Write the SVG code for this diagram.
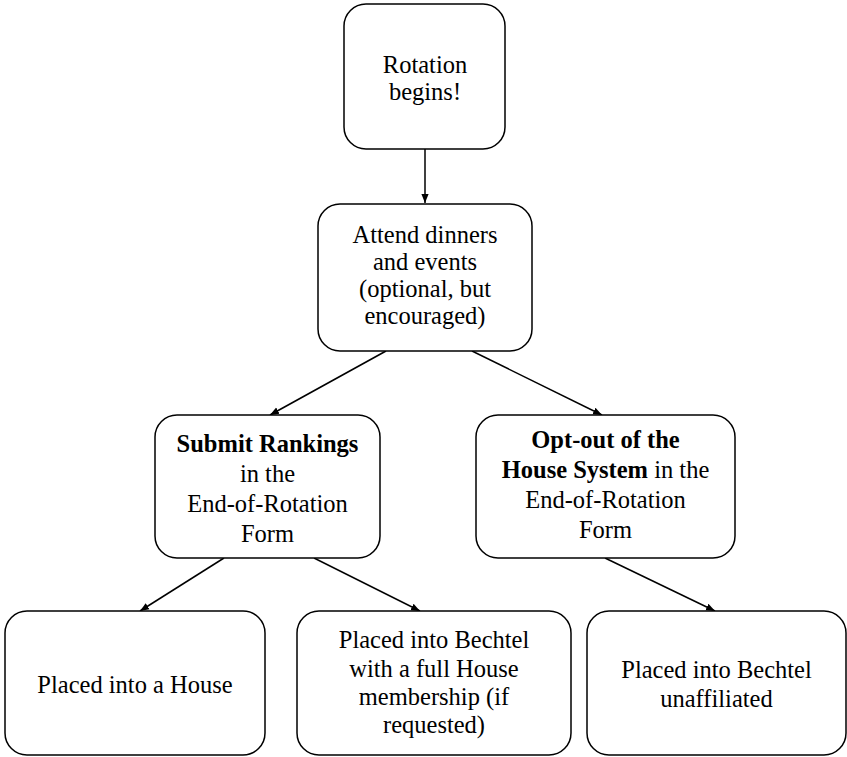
<svg xmlns="http://www.w3.org/2000/svg" width="847" height="757" viewBox="0 0 847 757">
<style>
.box{fill:#fff;stroke:#000;stroke-width:1.5}
.t{font-family:"Liberation Serif","Times New Roman",serif;font-size:24.5px;fill:#000;text-anchor:middle}
.b{font-weight:bold}
.c{stroke:#000;stroke-width:1.5;fill:none;marker-end:url(#ah)}
</style>
<defs>
<marker id="ah" viewBox="0 0 10 10" refX="10" refY="5" markerWidth="6" markerHeight="6" markerUnits="strokeWidth" orient="auto">
<path d="M0,1 L10,5 L0,9 z" fill="#000"/>
</marker>
</defs>
<rect width="847" height="757" fill="#fff"/>
<g id="connectors">
<line class="c" x1="425" y1="149" x2="425" y2="203"/>
<line class="c" x1="386" y1="351" x2="270" y2="415"/>
<line class="c" x1="472" y1="351" x2="602" y2="415"/>
<line class="c" x1="224" y1="558" x2="140" y2="611"/>
<line class="c" x1="314" y1="558" x2="420" y2="611"/>
<line class="c" x1="605" y1="558" x2="715" y2="611"/>
</g>
<g id="n1">
<rect class="box" x="344" y="4" width="161" height="145" rx="22"/>
<text class="t" x="425" y="73">Rotation</text>
<text class="t" x="425" y="100">begins!</text>
</g>
<g id="n2">
<rect class="box" x="318" y="204" width="214" height="147" rx="22"/>
<text class="t" x="425" y="243">Attend dinners</text>
<text class="t" x="425" y="270">and events</text>
<text class="t" x="425" y="297">(optional, but</text>
<text class="t" x="425" y="324">encouraged)</text>
</g>
<g id="n3">
<rect class="box" x="155" y="415" width="225" height="143" rx="22"/>
<text class="t b" x="267.5" y="452">Submit Rankings</text>
<text class="t" x="267.5" y="482">in the</text>
<text class="t" x="267.5" y="512">End-of-Rotation</text>
<text class="t" x="267.5" y="542">Form</text>
</g>
<g id="n4">
<rect class="box" x="476" y="415" width="259" height="143" rx="22"/>
<text class="t b" x="605.5" y="448">Opt-out of the</text>
<text class="t" x="605.5" y="478"><tspan class="b">House System</tspan> in the</text>
<text class="t" x="605.5" y="508">End-of-Rotation</text>
<text class="t" x="605.5" y="538">Form</text>
</g>
<g id="n5">
<rect class="box" x="5" y="611" width="260" height="144" rx="22"/>
<text class="t" x="135" y="693">Placed into a House</text>
</g>
<g id="n6">
<rect class="box" x="297" y="611" width="274" height="144" rx="22"/>
<text class="t" x="434" y="648">Placed into Bechtel</text>
<text class="t" x="434" y="677">with a full House</text>
<text class="t" x="434" y="705">membership (if</text>
<text class="t" x="434" y="733">requested)</text>
</g>
<g id="n7">
<rect class="box" x="587" y="611" width="259" height="144" rx="22"/>
<text class="t" x="716.5" y="678">Placed into Bechtel</text>
<text class="t" x="716.5" y="707">unaffiliated</text>
</g>
</svg>
